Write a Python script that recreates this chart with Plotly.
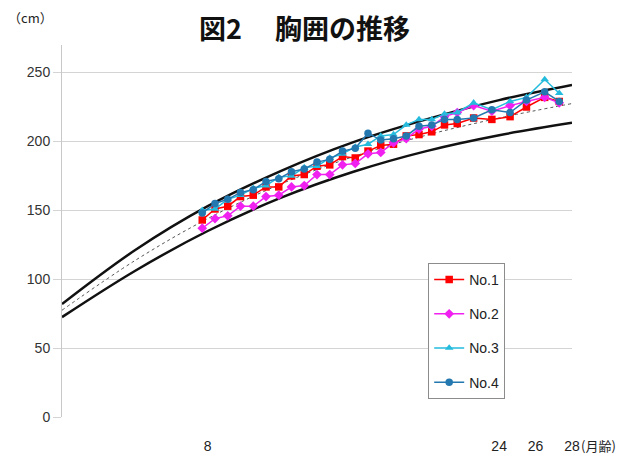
import plotly.graph_objects as go

# Reference curves (month, cm)
curve_months = [0, 4, 8, 12, 16, 20, 24, 28]
upper_curve = [82, 121, 153, 178.5, 199.5, 216, 230, 241]
lower_curve = [72.5, 106, 135, 159, 178, 193, 204.5, 213.5]
mid_curve = [77.5, 113.5, 144, 169, 189, 204.5, 217, 227.5]

# Measured chest girth of 4 animals
months = [7.7, 8.4, 9.1, 9.8, 10.5, 11.2, 11.9, 12.6, 13.3, 14.0, 14.7, 15.4, 16.1, 16.8,
          17.5, 18.2, 18.9, 19.6, 20.3, 21.0, 21.7, 22.6, 23.6, 24.6, 25.5, 26.5, 27.3]
no1 = [143, 151, 153, 160, 161, 167, 167, 175, 176, 182, 183, 189, 188, 193,
       197, 198, 204, 205, 207, 212, 213, 217, 216, 218, 225, 232, 229]
no2 = [137, 144, 146, 153, 153, 160, 161, 167, 168, 176, 176, 183, 184, 191,
       192, 199, 202, 209, 211, 218, 221, 226, 222, 226, 229, 232, 228]
no3 = [150, 151, 158, 161, 166, 168, 174, 175, 181, 182, 188, 191, 196, 198,
       204, 205, 212, 216, 216, 220, 221, 228, 223, 229, 232, 245, 235]
no4 = [148, 155, 158, 163, 165, 171, 173, 178, 180, 185, 187, 193, 195, 206,
       201, 202, 204, 211, 212, 216, 216, 217, 223, 221, 230, 236, 229]

series_names = ["No.1", "No.2", "No.3", "No.4"]
series_values = [no1, no2, no3, no4]
series_colors = ["#FF0000", "#F020F0", "#25BBDD", "#2378B0"]
series_symbols = ["square", "diamond", "triangle-up", "circle"]

x_tickvals = [8, 24, 26, 28]
x_ticktext = ["8", "24", "26", "28"]
y_tickvals = [0, 50, 100, 150, 200, 250]

fig = go.Figure()

for ys, w, dash, col in [(upper_curve, 2.5, "solid", "#111111"),
                          (lower_curve, 2.5, "solid", "#111111"),
                          (mid_curve, 1, "dot", "#555555")]:
    fig.add_trace(go.Scatter(x=curve_months, y=ys, mode="lines",
                             line=dict(color=col, width=w, dash=dash, shape="spline"),
                             showlegend=False, hoverinfo="skip"))

for name, vals, col, sym in zip(series_names, series_values, series_colors, series_symbols):
    fig.add_trace(go.Scatter(x=months, y=vals, mode="lines+markers", name=name,
                             legendgroup=name,
                             line=dict(color=col, width=1.5),
                             marker=dict(color=col, symbol=sym, size=7.5)))

# page body adds an 8px offset; figure sized to fit the 635x457 window exactly
W, H = 627, 449
fig.update_layout(
    width=W, height=H,
    margin=dict(l=54, r=63, t=37, b=40),
    paper_bgcolor="white", plot_bgcolor="white",
    font=dict(family="Liberation Sans, Arial, sans-serif", size=13, color="#333333"),
    showlegend=True,
    legend=dict(x=0.718, y=0.414, xanchor="left", yanchor="top",
                bordercolor="#8C8C8C", borderwidth=1, bgcolor="white",
                font=dict(size=14, color="#222222"), tracegroupgap=13,
                itemwidth=30),
    title=dict(text="<b>図2　 胸囲の推移</b>", x=296.5 / W, xanchor="center",
               y=1 - 22 / H, yanchor="middle",
               font=dict(family="Noto Sans CJK JP", size=27, color="#111111")),
)

fig.update_xaxes(range=[0, 28], tickvals=x_tickvals, ticktext=x_ticktext,
                 showgrid=False, zeroline=False, showline=False, automargin=False,
                 ticks="outside", ticklen=16, tickcolor="rgba(0,0,0,0)",
                 tickfont=dict(size=14, color="#222222"))
fig.update_yaxes(range=[0, 270], tickvals=y_tickvals, automargin=False,
                 showgrid=True, gridcolor="#D4D4D4", gridwidth=1,
                 zeroline=False, showline=True, linecolor="#C8C8C8", linewidth=1,
                 ticks="outside", ticklen=8, tickcolor="#D4D4D4",
                 tickfont=dict(size=14, color="#333333"))

fig.add_annotation(text="（cm）", xref="paper", yref="paper", x=-0.11, y=1.075,
                   xanchor="left", yanchor="middle", showarrow=False,
                   font=dict(family="Noto Sans CJK JP", size=13, color="#222222"))
fig.add_annotation(text="(月齢)", xref="x", yref="paper", x=28, y=0,
                   xanchor="left", yanchor="middle", xshift=7, yshift=-28,
                   showarrow=False,
                   font=dict(family="Noto Sans CJK JP", size=13, color="#222222"))

fig.write_html("out.html")
